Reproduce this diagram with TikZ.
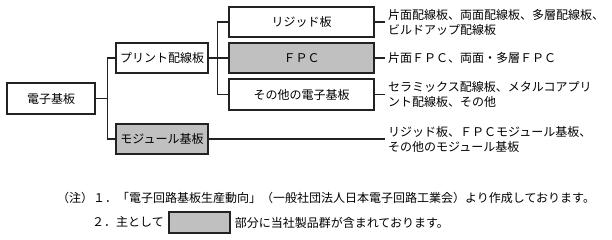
\documentclass[tikz,border=0pt]{standalone}
\usepackage{fontspec}
\setmainfont{Noto Sans CJK JP}
\usetikzlibrary{positioning}
\definecolor{prod}{RGB}{192,192,192}
\definecolor{ink}{RGB}{34,34,34}
\begin{document}
\begin{tikzpicture}[x=1pt,y=-1pt,font=\fontsize{12}{15}\selectfont,
 box/.style={draw=ink,line width=1.3pt,inner sep=0pt,minimum height=30pt,fill=white},
 desc/.style={anchor=west,align=left,inner sep=3pt},
 note/.style={anchor=west,inner sep=0pt},
 link/.style={draw=ink,line width=1.1pt}]
\useasboundingbox (0,0) rectangle (612,239);
\node[box,minimum width=88pt,minimum height=31pt] (base) at (51,98.5) {電子基板};
\node[box,minimum width=92pt] (pwb) at (162,58) {プリント配線板};
\node[box,minimum width=92pt,fill=prod] (mod) at (162,139) {モジュール基板};
\node[box,minimum width=145pt] (rigid) at (301.5,22) {リジッド板};
\node[box,minimum width=145pt,fill=prod] (fpc) at (301.5,58) {ＦＰＣ};
\node[box,minimum width=145pt,minimum height=31pt] (other) at (301.5,94.5) {その他の電子基板};
\node[desc] (rigid-d) at (385,22) {片面配線板、両面配線板、多層配線板、\\ビルドアップ配線板};
\node[desc] (fpc-d) at (385,58) {片面ＦＰＣ、両面・多層ＦＰＣ};
\node[desc] (other-d) at (385,94.5) {セラミックス配線板、メタルコアプリ\\ント配線板、その他};
\node[desc] (mod-d) at (385,139) {リジッド板、ＦＰＣモジュール基板、\\その他のモジュール基板};
\foreach \b in {pwb,mod}{\draw[link] (base.east)--++(12,0)|-(\b.west);}
\foreach \b in {rigid,fpc,other}{\draw[link] (pwb.east)--++(9,0)|-(\b.west);}
\foreach \b in {rigid,fpc,other,mod}{\draw[link] (\b.east)--(\b-d.west);}
% notes
\node[note] (note1) at (57,198) {（注）１．「電子回路基板生産動向」（一般社団法人日本電子回路工業会）より作成しております。};
\node[note] (note2) at (92,222) {２．主として};
\node[box,minimum width=61pt,minimum height=21pt,fill=prod] (key) at (199.5,222.5) {};
\node[note,right=4pt of key] (note2b) {部分に当社製品群が含まれております。};
\end{tikzpicture}
\end{document}
